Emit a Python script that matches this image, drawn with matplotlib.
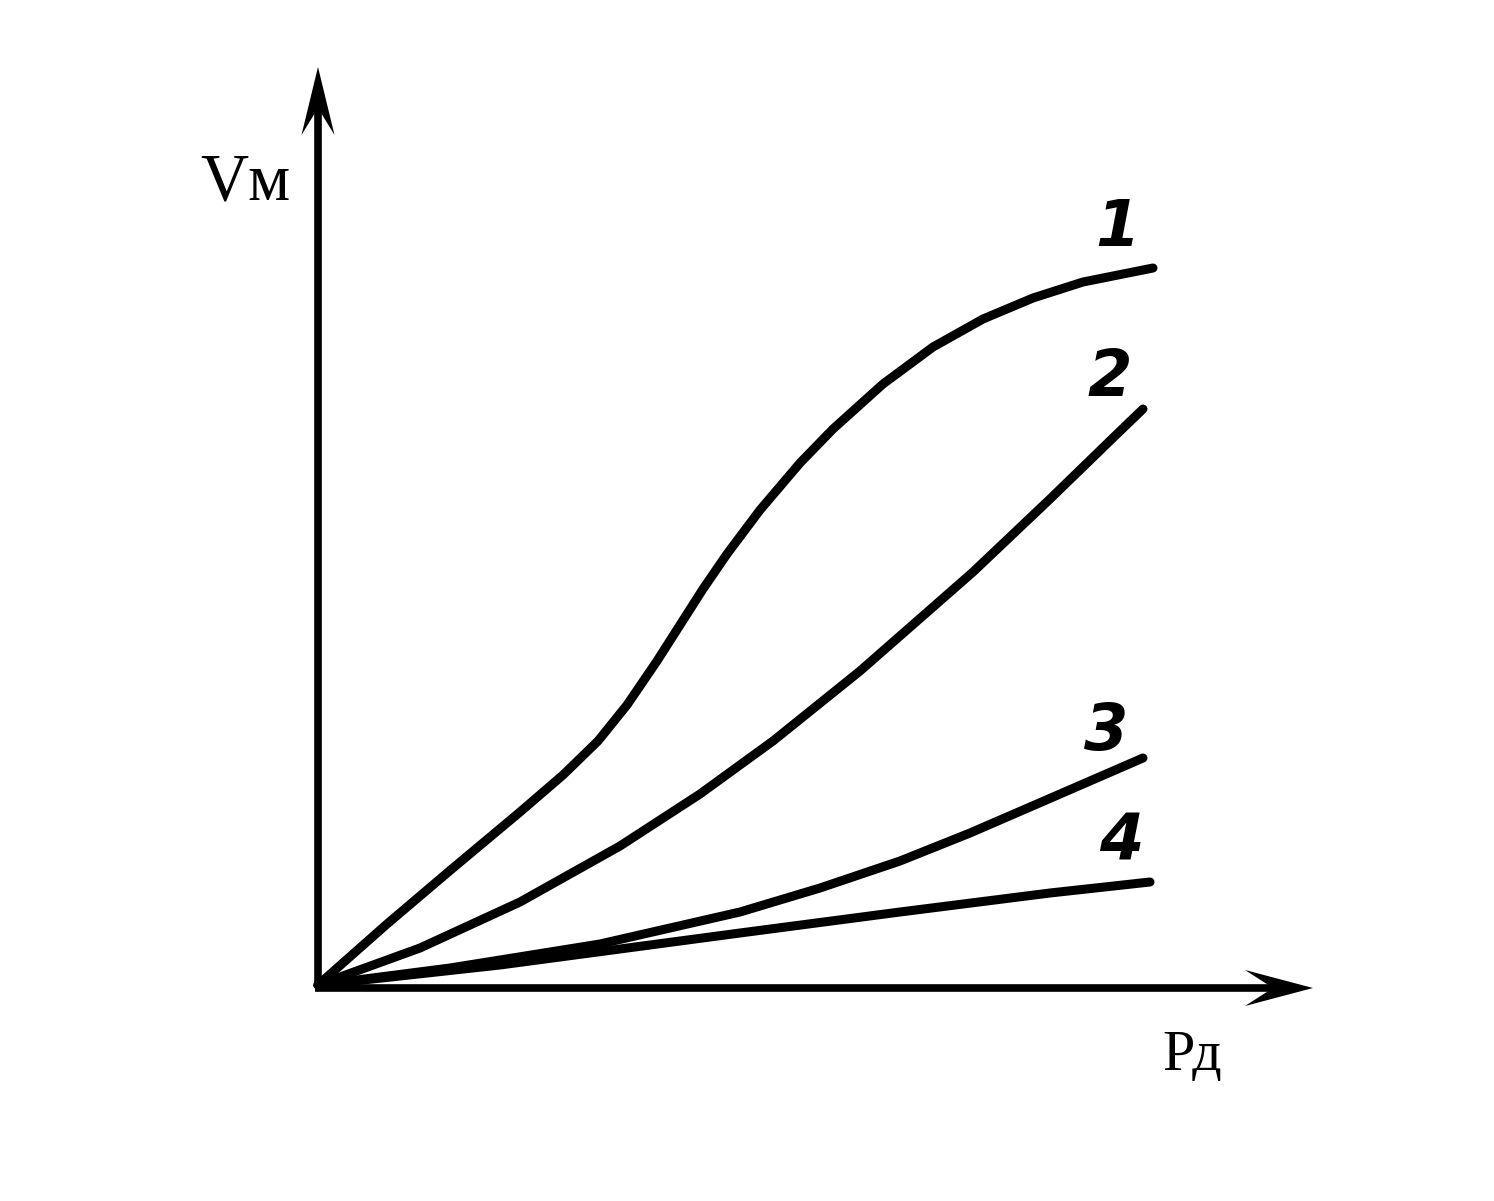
import numpy as np
import matplotlib.pyplot as plt

# values (origin at the axes corner, arbitrary units)
x1 = [0.0, 0.69, 1.35, 2.02, 2.45, 2.80, 3.09, 3.39, 3.62, 3.85, 4.09, 4.42,
      4.82, 5.15, 5.65, 6.15, 6.65, 7.15, 7.65, 8.35]
y1 = [0.03, 0.64, 1.20, 1.76, 2.13, 2.47, 2.83, 3.27, 3.63, 3.99, 4.34, 4.78,
      5.25, 5.59, 6.04, 6.41, 6.69, 6.90, 7.06, 7.20]

x2 = [0.0, 1.02, 2.02, 3.02, 3.82, 4.55, 5.42, 6.55, 7.32, 7.99, 8.25]
y2 = [0.03, 0.40, 0.86, 1.42, 1.94, 2.47, 3.17, 4.16, 4.89, 5.54, 5.79]

x3 = [0.0, 1.32, 2.82, 4.22, 5.02, 5.82, 6.52, 7.19, 8.25]
y3 = [0.03, 0.20, 0.44, 0.76, 1.00, 1.27, 1.55, 1.84, 2.30]

x4 = [0.0, 1.82, 4.22, 5.82, 7.32, 8.32]
y4 = [0.03, 0.23, 0.55, 0.76, 0.95, 1.06]

curves = [(x1, y1), (x2, y2), (x3, y3), (x4, y4)]
labels = ["1", "2", "3", "4"]
label_pos = [(7.99, 7.60), (7.92, 6.10), (7.88, 2.56), (8.03, 1.45)]

fig = plt.figure(figsize=(14.94, 12.01), dpi=100)
ax = fig.add_axes([318 / 1494, 213 / 1201, 1176 / 1494, 988 / 1201])
ax.set_xlim(0, 11.76)
ax.set_ylim(0, 9.88)
ax.axis("off")

# axis lines
ax.plot([0, 0], [0, 8.9], color="black", lw=5.5, solid_capstyle="butt", clip_on=False)
ax.plot([-0.03, 9.6], [0, 0], color="black", lw=5.5, solid_capstyle="butt", clip_on=False)

# arrow heads (notched, filled)
ytip, yback, ynotch, hw = 9.21, 8.53, 8.80, 0.165
ax.fill([0, hw, 0, -hw], [ytip, yback, ynotch, yback], color="black", lw=0, clip_on=False)
xtip, xback, xnotch, hh = 9.95, 9.27, 9.55, 0.18
ax.fill([xtip, xback, xnotch, xback], [0, hh, 0, -hh], color="black", lw=0, clip_on=False)

for (xs, ys), lab, (lx, ly) in zip(curves, labels, label_pos):
    ax.plot(xs, ys, color="black", lw=6.5, solid_capstyle="round",
            solid_joinstyle="round", clip_on=False)
    ax.text(lx, ly, lab, fontsize=46, fontweight="bold", fontstyle="italic",
            family="DejaVu Sans", ha="center", va="center")

ax.text(-1.18, 8.05, "Vм", fontsize=48, family="Liberation Serif",
        ha="left", va="center", clip_on=False)
ax.text(8.44, -0.68, "Рд", fontsize=42, family="Liberation Serif",
        ha="left", va="center", clip_on=False)

fig.savefig("out.png", dpi=100)
